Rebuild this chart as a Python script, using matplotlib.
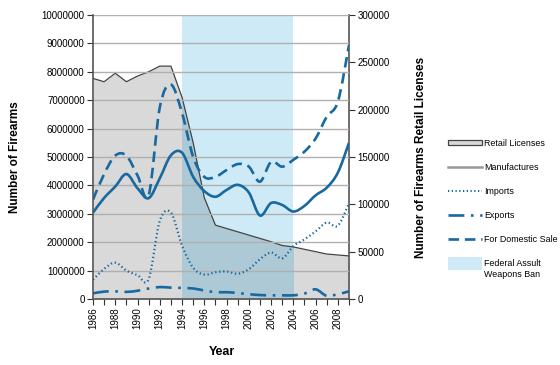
import matplotlib
matplotlib.use("Agg")
import matplotlib.pyplot as plt
import numpy as np
from matplotlib.path import Path
from matplotlib.patches import PathPatch, Patch, Rectangle
from matplotlib.lines import Line2D
from matplotlib.legend_handler import HandlerPatch

plt.rcParams['font.family'] = ['Liberation Sans Narrow', 'Liberation Sans', 'DejaVu Sans']

years = list(range(1986, 2010))
retail_licenses = [233000, 229500, 238500, 229500, 235500, 240000, 246000, 246000,
                   213000, 165000, 107000, 78000, 74500, 71000, 67500, 64000,
                   60500, 56500, 55000, 52500, 50000, 47500, 46500, 45500]
manufactures = [3.04e6, 3.56e6, 3.96e6, 4.40e6, 3.90e6, 3.55e6, 4.25e6, 5.06e6,
                5.15e6, 4.30e6, 3.80e6, 3.60e6, 3.84e6, 4.02e6, 3.75e6, 2.94e6,
                3.38e6, 3.31e6, 3.08e6, 3.28e6, 3.65e6, 3.92e6, 4.45e6, 5.50e6]
imports = [0.68e6, 1.06e6, 1.28e6, 1.00e6, 0.84e6, 0.70e6, 2.75e6, 3.04e6,
           1.88e6, 1.10e6, 0.86e6, 0.94e6, 0.97e6, 0.89e6, 1.05e6, 1.40e6,
           1.64e6, 1.43e6, 1.86e6, 2.10e6, 2.38e6, 2.69e6, 2.58e6, 3.37e6]
exports = [0.20e6, 0.26e6, 0.27e6, 0.25e6, 0.29e6, 0.37e6, 0.42e6, 0.40e6,
           0.39e6, 0.37e6, 0.30e6, 0.24e6, 0.24e6, 0.21e6, 0.17e6, 0.14e6,
           0.13e6, 0.13e6, 0.13e6, 0.19e6, 0.34e6, 0.11e6, 0.17e6, 0.27e6]
domestic_sale = [3.50e6, 4.40e6, 5.05e6, 5.05e6, 4.35e6, 3.65e6, 6.75e6, 7.55e6,
                 6.55e6, 5.00e6, 4.30e6, 4.30e6, 4.54e6, 4.75e6, 4.66e6, 4.13e6,
                 4.83e6, 4.66e6, 4.90e6, 5.19e6, 5.65e6, 6.42e6, 6.95e6, 8.94e6]
ban_start, ban_end = 1994, 2004

left_ticks = list(range(0, 10000001, 1000000))
right_ticks = list(range(0, 300001, 50000))
x_major = list(range(1986, 2009, 2))

BLUE = '#17699f'
GRAY_FILL = '#d9d9d9'
BAND = '#cfeaf7'
OVERLAP = '#adc9d5'


def smooth_path(x, y):
    x = np.asarray(x, float)
    y = np.asarray(y, float)
    n = len(x)
    verts = [(x[0], y[0])]
    codes = [Path.MOVETO]
    for i in range(n - 1):
        p0 = np.array([x[max(i - 1, 0)], y[max(i - 1, 0)]])
        p1 = np.array([x[i], y[i]])
        p2 = np.array([x[i + 1], y[i + 1]])
        p3 = np.array([x[min(i + 2, n - 1)], y[min(i + 2, n - 1)]])
        c1 = p1 + (p2 - p0) / 6.0
        c2 = p2 - (p3 - p1) / 6.0
        verts += [tuple(c1), tuple(c2), tuple(p2)]
        codes += [Path.CURVE4] * 3
    return Path(verts, codes)


fig = plt.figure(figsize=(5.6, 3.65), dpi=100)
ax = fig.add_axes([93 / 560, 1 - 299 / 365, (349 - 93) / 560, (299 - 15) / 365])
ax2 = ax.twinx()

# right axis: band + retail licenses area
ax2.axvspan(ban_start, ban_end, color=BAND, lw=0, zorder=0)
ax2.fill_between(years, retail_licenses, 0, color=GRAY_FILL, lw=0, zorder=1)
ov = ax2.fill_between(years, retail_licenses, 0, color=OVERLAP, lw=0, zorder=2)
clip = Rectangle((ban_start, 0), ban_end - ban_start, 300000, transform=ax2.transData)
ov.set_clip_path(clip)
ax2.plot(years, retail_licenses, color='#444444', lw=0.9, zorder=3)
ax2.set_ylim(0, 300000)
ax2.set_yticks(right_ticks)
ax2.set_yticklabels([str(v) for v in right_ticks], fontsize=7)

# left axis lines above
ax.set_zorder(ax2.get_zorder() + 1)
ax.patch.set_visible(False)
ax.set_xlim(1986, 2009)
ax.set_ylim(0, 10000000)
ax.set_yticks(left_ticks)
ax.set_yticklabels([str(v) for v in left_ticks], fontsize=7)
ax.yaxis.grid(True, color='#b0b0b0', lw=1.0)
ax.set_axisbelow(True)

styles = [
    (manufactures, dict(linestyle='-', lw=1.9)),
    (imports, dict(linestyle=(0, (0.6, 1.2)), lw=1.6)),
    (exports, dict(linestyle=(0, (6, 2.5, 1, 2.5)), lw=1.9)),
    (domestic_sale, dict(linestyle=(0, (4, 2.2)), lw=1.9)),
]
for data, st in styles:
    pp = PathPatch(smooth_path(years, data), fill=False, edgecolor=BLUE,
                   capstyle='butt', **st)
    ax.add_patch(pp)

ax.set_xticks(x_major)
ax.set_xticks(years, minor=True)
ax.set_xticklabels([str(v) for v in x_major], rotation=90, fontsize=7)
for a in (ax, ax2):
    a.spines['top'].set_visible(False)
    a.tick_params(axis='both', which='both', direction='out', length=4,
                  width=0.8, color='#333333', pad=2)
ax2.spines['left'].set_visible(False)
ax2.spines['bottom'].set_visible(False)
ax.spines['right'].set_visible(False)
for a, s in ((ax2, 'right'), (ax, 'left'), (ax, 'bottom')):
    a.spines[s].set_color('#555555')
    a.spines[s].set_linewidth(1.2)

fig.text(15 / 560, 1 - 157 / 365, 'Number of Firearms', rotation=90,
         ha='center', va='center', fontsize=8.5, fontweight='bold')
fig.text(421 / 560, 1 - 157 / 365, 'Number of Firearms Retail Licenses', rotation=90,
         ha='center', va='center', fontsize=8.5, fontweight='bold')
fig.text(222 / 560, 1 - 352 / 365, 'Year', ha='center', va='center',
         fontsize=9, fontweight='bold')


def tall_patch(legend, orig_handle, xdescent, ydescent, width, height, fontsize):
    return Rectangle((-xdescent, -ydescent + height * 0.3), width, height * 2.3)


band_handle = Patch(facecolor=BAND, edgecolor='none')
handles = [
    Patch(facecolor=GRAY_FILL, edgecolor='#444444', lw=0.9),
    Line2D([], [], color='#999999', lw=1.8),
    Line2D([], [], color=BLUE, lw=1.5, linestyle=(0, (0.6, 1.2))),
    Line2D([], [], color=BLUE, lw=1.9, linestyle=(0, (6, 2.5, 1, 2.5))),
    Line2D([], [], color=BLUE, lw=1.9, linestyle=(0, (4, 2.2))),
    band_handle,
]
labels = ['Retail Licenses', 'Manufactures', 'Imports', 'Exports',
          'For Domestic Sale', 'Federal Assult\nWeapons Ban']
fig.legend(handles, labels, loc='upper left',
           bbox_to_anchor=(444 / 560, 1 - 135 / 365), frameon=False,
           fontsize=6.4, handlelength=3.9, handleheight=0.6, handletextpad=0.25,
           labelspacing=1.7, borderaxespad=0,
           handler_map={band_handle: HandlerPatch(patch_func=tall_patch)})

fig.savefig('out.png', dpi=100)
